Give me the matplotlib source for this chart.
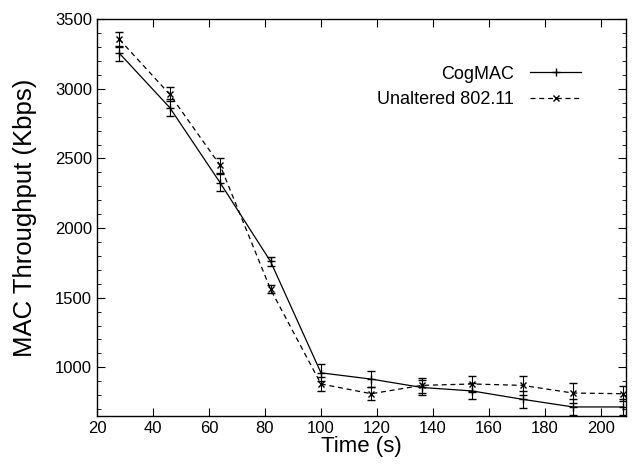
import matplotlib
matplotlib.use("Agg")
import matplotlib.pyplot as plt
from matplotlib.ticker import MultipleLocator

time_s = [28, 46, 64, 82, 100, 118, 136, 154, 172, 190, 208]
cogmac = [3255, 2865, 2325, 1760, 960, 915, 855, 830, 770, 715, 715]
cogmac_err = [55, 60, 60, 30, 60, 60, 55, 60, 60, 55, 55]
unaltered = [3355, 2960, 2450, 1560, 880, 810, 870, 880, 870, 815, 810]
unaltered_err = [55, 50, 55, 30, 50, 45, 55, 60, 70, 70, 55]

plt.rcParams['font.family'] = ['Liberation Sans', 'DejaVu Sans']

fig = plt.figure(figsize=(6.36, 4.69), dpi=100)
ax = fig.add_axes([0.1525, 0.113, 0.832, 0.846])

ax.errorbar(time_s, cogmac, yerr=cogmac_err, color='black', lw=0.9, ls='-',
            marker='+', ms=6, mew=1.0, capsize=3, elinewidth=0.8, capthick=0.8,
            label='CogMAC')
ax.errorbar(time_s, unaltered, yerr=unaltered_err, color='black', lw=0.9, ls=(0, (4, 3)),
            marker='x', ms=5, mew=1.0, capsize=3, elinewidth=0.8, capthick=0.8,
            label='Unaltered 802.11')

ax.set_xlim(20, 209)
ax.set_ylim(650, 3500)
ax.xaxis.set_major_locator(MultipleLocator(20))
ax.yaxis.set_major_locator(MultipleLocator(500))
ax.yaxis.set_minor_locator(MultipleLocator(100))
ax.tick_params(which='both', direction='in', top=True, right=True, labelsize=12)
ax.tick_params(which='major', length=6)
ax.tick_params(which='minor', length=3)
for s in ax.spines.values():
    s.set_linewidth(1.0)

ax.set_xlabel('Time (s)', fontsize=16, labelpad=0)
ax.set_ylabel('MAC Throughput (Kbps)', fontsize=18.5, labelpad=13)

handles, labels = ax.get_legend_handles_labels()
leg = ax.legend([h[0] for h in handles], labels, loc='upper right', bbox_to_anchor=(0.935, 0.91),
                frameon=False, markerfirst=False, fontsize=13, handlelength=2.8,
                labelspacing=0.45, handletextpad=0.9, borderaxespad=0.2)

fig.savefig('out.png', dpi=100)
